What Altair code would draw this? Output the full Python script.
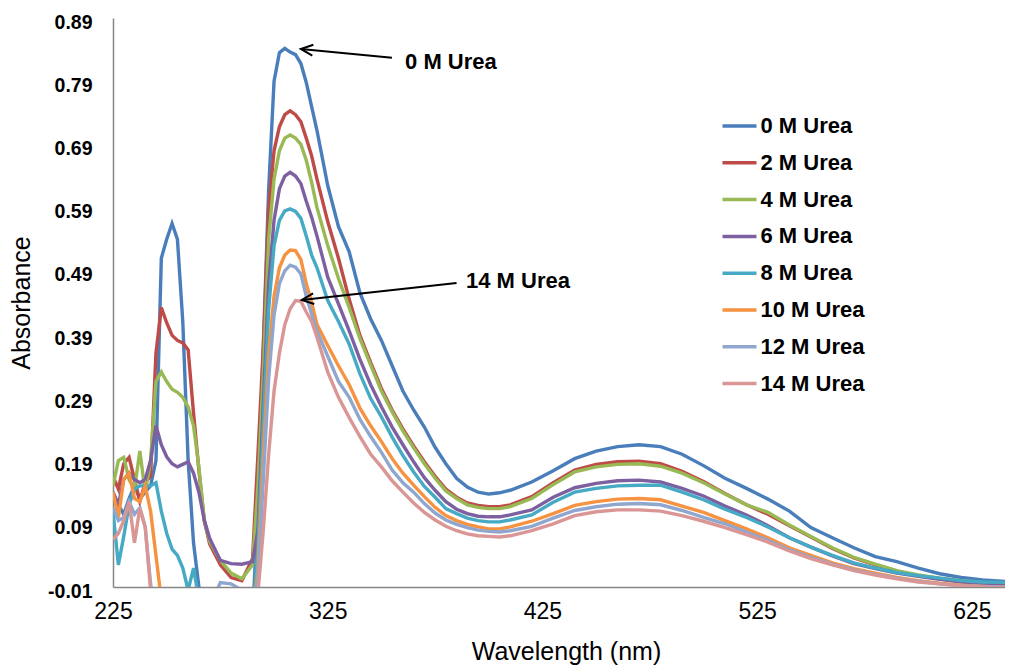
import altair as alt
import pandas as pd

wavelength = [225, 227.5, 230, 232.5, 235, 237.5, 240, 242.5, 245, 247.5,
              250, 252.5, 255, 257.5, 260, 262.5, 265, 267.5, 270, 275,
              280, 285, 290, 292.5, 295, 297.5, 300, 302.5, 305, 307.5,
              310, 312.5, 315, 317.5, 320, 325, 330, 335, 340, 345,
              350, 355, 360, 365, 370, 375, 380, 385, 390, 395,
              400, 405, 410, 420, 430, 440, 450, 460, 470, 480,
              490, 500, 510, 520, 530, 540, 550, 560, 570, 580,
              590, 600, 610, 620, 630, 645]

urea_0 = [0.14, 0.12, 0.105, 0.13, 0.15, 0.13, 0.14, 0.15, 0.19, 0.51,
          0.54, 0.565, 0.54, 0.41, 0.19, 0.06, -0.01, -0.08, -0.1, -0.1,
          -0.1, -0.1, -0.06, 0.12, 0.37, 0.62, 0.79, 0.835, 0.842, 0.836,
          0.832, 0.818, 0.788, 0.75, 0.712, 0.625, 0.56, 0.52, 0.455, 0.414,
          0.38, 0.34, 0.30, 0.27, 0.243, 0.211, 0.185, 0.162, 0.148, 0.14,
          0.137, 0.139, 0.143, 0.156, 0.174, 0.193, 0.205, 0.212, 0.215, 0.212,
          0.200, 0.182, 0.162, 0.146, 0.129, 0.110, 0.084, 0.068, 0.052, 0.038,
          0.030, 0.020, 0.011, 0.005, 0.001, -0.002]

urea_2 = [0.165, 0.145, 0.185, 0.195, 0.16, 0.125, 0.155, 0.165, 0.36, 0.432,
          0.408, 0.388, 0.38, 0.376, 0.365, 0.265, 0.175, 0.095, 0.058, 0.025,
          0.005, 0.0, 0.035, 0.2, 0.37, 0.59, 0.68, 0.718, 0.737, 0.743,
          0.737, 0.726, 0.70, 0.672, 0.635, 0.568, 0.51, 0.445, 0.388, 0.345,
          0.304, 0.27, 0.24, 0.213, 0.188, 0.165, 0.145, 0.132, 0.123, 0.119,
          0.117, 0.117, 0.12, 0.133, 0.155, 0.175, 0.184, 0.188, 0.189, 0.185,
          0.173, 0.157, 0.138, 0.12, 0.105, 0.087, 0.069, 0.051, 0.036, 0.025,
          0.015, 0.008, 0.003, -0.001, -0.004, -0.006]

urea_4 = [0.15, 0.19, 0.195, 0.16, 0.145, 0.205, 0.14, 0.19, 0.315, 0.33,
          0.315, 0.303, 0.298, 0.29, 0.275, 0.245, 0.18, 0.095, 0.062, 0.032,
          0.012, 0.003, 0.025, 0.15, 0.33, 0.54, 0.635, 0.68, 0.70, 0.705,
          0.70, 0.69, 0.665, 0.63, 0.59, 0.53, 0.478, 0.432, 0.383, 0.341,
          0.30, 0.267, 0.237, 0.21, 0.185, 0.162, 0.142, 0.13, 0.12, 0.116,
          0.114, 0.114, 0.117, 0.13, 0.152, 0.172, 0.18, 0.184, 0.185, 0.181,
          0.170, 0.155, 0.137, 0.12, 0.108, 0.088, 0.07, 0.052, 0.037, 0.026,
          0.016, 0.009, 0.004, 0.0, -0.003, -0.006]

urea_6 = [0.14, 0.12, 0.16, 0.17, 0.16, 0.155, 0.16, 0.19, 0.245, 0.215,
          0.196, 0.185, 0.18, 0.184, 0.188, 0.17, 0.14, 0.096, 0.067, 0.032,
          0.027, 0.026, 0.03, 0.08, 0.28, 0.47, 0.57, 0.62, 0.64, 0.646,
          0.64, 0.628, 0.60, 0.575, 0.545, 0.48, 0.438, 0.395, 0.35, 0.31,
          0.275, 0.243, 0.215, 0.188, 0.163, 0.143, 0.125, 0.113, 0.106, 0.102,
          0.101, 0.101, 0.104, 0.112, 0.132, 0.147, 0.154, 0.158, 0.159, 0.156,
          0.146, 0.134, 0.118, 0.104, 0.087, 0.068, 0.053, 0.039, 0.027, 0.019,
          0.012, 0.007, 0.002, -0.002, -0.004, -0.006]

urea_8 = [0.11, 0.025, 0.07, 0.12, 0.145, 0.15, 0.15, 0.15, 0.155, 0.11,
          0.075, 0.05, 0.04, 0.02, -0.015, 0.02, -0.03, -0.1, -0.1, -0.1,
          -0.1, -0.1, -0.05, 0.05, 0.25, 0.43, 0.53, 0.57, 0.585, 0.588,
          0.584, 0.573, 0.545, 0.515, 0.495, 0.443, 0.41, 0.374, 0.327, 0.288,
          0.259, 0.227, 0.198, 0.172, 0.149, 0.132, 0.114, 0.106, 0.099, 0.095,
          0.093, 0.093, 0.096, 0.104, 0.124, 0.14, 0.146, 0.150, 0.151, 0.151,
          0.14, 0.128, 0.113, 0.100, 0.085, 0.068, 0.053, 0.04, 0.028, 0.02,
          0.013, 0.008, 0.004, 0.0, -0.002, -0.003]

urea_10 = [0.14, 0.1, 0.16, 0.17, 0.13, 0.125, 0.15, 0.11, 0.04, -0.03,
           -0.1, -0.1, -0.1, -0.1, -0.1, -0.1, -0.1, -0.1, -0.1, -0.1,
           -0.1, -0.1, -0.08, 0.02, 0.2, 0.36, 0.45, 0.495, 0.515, 0.523,
           0.522, 0.508, 0.47, 0.44, 0.405, 0.372, 0.34, 0.31, 0.273, 0.245,
           0.22, 0.193, 0.17, 0.151, 0.133, 0.116, 0.103, 0.095, 0.089, 0.085,
           0.082, 0.082, 0.085, 0.094, 0.106, 0.119, 0.125, 0.129, 0.13, 0.128,
           0.118, 0.108, 0.095, 0.082, 0.068, 0.052, 0.04, 0.028, 0.019, 0.012,
           0.005, 0.0, -0.004, -0.007, -0.009, -0.011]

urea_12 = [0.115, 0.095, 0.1, 0.125, 0.105, 0.115, 0.085, -0.005, -0.06, -0.1,
           -0.1, -0.1, -0.1, -0.1, -0.1, -0.1, -0.1, -0.1, -0.04, -0.003,
           -0.005, -0.015, -0.06, 0.0, 0.16, 0.32, 0.42, 0.47, 0.49, 0.499,
           0.496, 0.485, 0.45, 0.422, 0.395, 0.355, 0.315, 0.29, 0.255, 0.228,
           0.203, 0.175, 0.155, 0.14, 0.122, 0.107, 0.096, 0.089, 0.084, 0.08,
           0.078, 0.077, 0.079, 0.086, 0.099, 0.111, 0.117, 0.121, 0.122, 0.12,
           0.111, 0.100, 0.09, 0.077, 0.064, 0.049, 0.037, 0.026, 0.017, 0.01,
           0.004, -0.001, -0.005, -0.008, -0.009, -0.011]

urea_14 = [0.065, 0.075, 0.095, 0.125, 0.06, 0.115, 0.085, -0.015, -0.08, -0.1,
           -0.1, -0.1, -0.1, -0.1, -0.1, -0.1, -0.1, -0.1, -0.1, -0.1,
           -0.1, -0.1, -0.1, -0.02, 0.08, 0.2, 0.3, 0.36, 0.405, 0.43,
           0.443, 0.442, 0.425, 0.41, 0.385, 0.33, 0.29, 0.258, 0.228, 0.2,
           0.18, 0.158, 0.14, 0.123, 0.108, 0.096, 0.086, 0.079, 0.074, 0.071,
           0.07, 0.069, 0.071, 0.079, 0.09, 0.103, 0.109, 0.112, 0.112, 0.11,
           0.103, 0.094, 0.084, 0.073, 0.061, 0.047, 0.035, 0.025, 0.016, 0.009,
           0.003, -0.002, -0.005, -0.008, -0.01, -0.012]

series_names = ["0 M Urea", "2 M Urea", "4 M Urea", "6 M Urea",
                "8 M Urea", "10 M Urea", "12 M Urea", "14 M Urea"]
series_values = [urea_0, urea_2, urea_4, urea_6, urea_8, urea_10, urea_12, urea_14]
series_colors = ["#4A7EBB", "#BE4B48", "#98B954", "#7D60A0",
                 "#46AAC5", "#F69240", "#8FA7CE", "#D99694"]

x_ticks = [225, 325, 425, 525, 625]
y_ticks = [-0.01, 0.09, 0.19, 0.29, 0.39, 0.49, 0.59, 0.69, 0.79, 0.89]

# annotations (data coordinates)
note_text = ["0 M Urea", "14 M Urea"]
note_x = [361.0, 389.4]
note_y = [0.820, 0.474]
arrow_tip_x = [312.5, 312.9]
arrow_tip_y = [0.841, 0.444]
arrow_tail_x = [354.9, 385.0]
arrow_tail_y = [0.827, 0.471]
arrow_angle = [5.6, 353.6]

rows = []
for name, vals in zip(series_names, series_values):
    for w, v in zip(wavelength, vals):
        rows.append({"Wavelength": w, "Absorbance": v, "Series": name})
df = pd.DataFrame(rows)

notes = pd.DataFrame({"Wavelength": note_x, "Absorbance": note_y, "label": note_text})
arrows = pd.DataFrame({"Wavelength": arrow_tip_x, "Absorbance": arrow_tip_y,
                       "Wavelength2": arrow_tail_x, "Absorbance2": arrow_tail_y,
                       "angle": arrow_angle})

FONT = "Liberation Sans, Arial, sans-serif"

x_scale = alt.Scale(domain=[225, 640.4], nice=False, zero=False)
y_scale = alt.Scale(domain=[-0.01, 0.89], nice=False, zero=False)

x_axis = alt.Axis(values=x_ticks, title="Wavelength (nm)", labelFontSize=23,
                  labelFontWeight="normal", labelPadding=24, labelBaseline="middle",
                  titleFontSize=25, titleFontWeight="normal", titleX=453, titleY=64,
                  titleBaseline="middle", titleAlign="center", labelFlush=False)
y_axis = alt.Axis(values=y_ticks, title="Absorbance",
                  labelExpr="replace(format(datum.value, '.2f'), '\u2212', '-')",
                  labelFontSize=19.5, labelFontWeight="bold", labelPadding=21,
                  labelOffset=4, labelFlush=False,
                  titleFontSize=25, titleFontWeight="normal", titleAngle=270,
                  titleX=-92, titleY=284.5, titleAlign="center", titleBaseline="middle")

X = alt.X("Wavelength:Q", scale=x_scale, axis=x_axis)
Y = alt.Y("Absorbance:Q", scale=y_scale, axis=y_axis)

lines = alt.Chart(df).mark_line(strokeWidth=3.4, clip=True).encode(
    x=X,
    y=Y,
    color=alt.Color("Series:N",
                    scale=alt.Scale(domain=series_names, range=series_colors),
                    sort=series_names,
                    legend=alt.Legend(title=None, orient="none", legendX=615.5, legendY=97,
                                      symbolType="M-2,0H2", symbolSize=289,
                                      symbolStrokeWidth=3.5, labelFont=FONT,
                                      labelFontSize=22, labelFontWeight="bold",
                                      labelColor="black", labelOffset=10,
                                      rowPadding=14.8, padding=0, offset=0)),
    order=alt.Order("Wavelength:Q"),
)

arrow_lines = alt.Chart(arrows).mark_rule(strokeWidth=2, color="black").encode(
    x=X, y=Y, x2="Wavelength2:Q", y2="Absorbance2:Q")

arrow_heads = alt.Chart(arrows).mark_point(
    shape="M1,-0.45L0,0L1,0.45", filled=False, strokeWidth=2, color="black",
    size=576, opacity=1).encode(x=X, y=Y, angle=alt.Angle("angle:Q", scale=None))

labels = alt.Chart(notes).mark_text(align="left", baseline="middle", font=FONT,
                                     fontSize=22, fontWeight="bold", color="black").encode(
    x=X, y=Y, text="label:N")

chart = alt.layer(lines, arrow_lines, arrow_heads, labels).properties(
    width=892, height=569,
    padding={"left": 105, "top": 10, "right": 0, "bottom": 80},
    autosize=alt.AutoSizeParams(type="none"),
    background="white",
).configure_view(stroke=None).configure_axis(
    grid=False, ticks=False, tickSize=0, domainColor="#868686", domainWidth=1.5,
    labelColor="black", titleColor="black", labelFont=FONT, titleFont=FONT,
)

chart.save("out.html", embed_options={"renderer": "svg", "actions": False})
